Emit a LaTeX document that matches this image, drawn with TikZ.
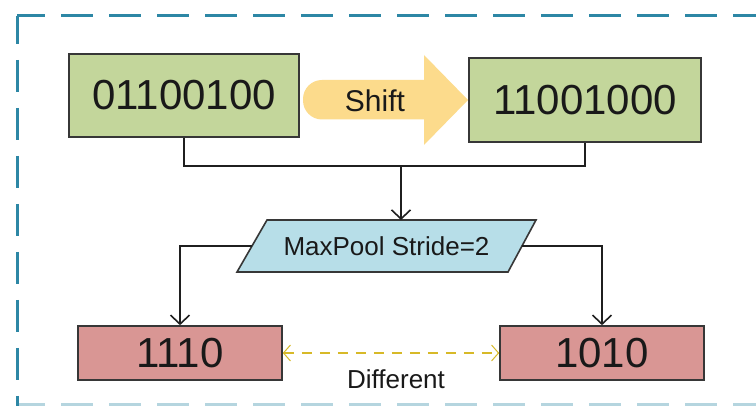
\documentclass[tikz,border=0pt]{standalone}
\usepackage{fontspec}
\setmainfont{Liberation Sans}
\usetikzlibrary{arrows.meta}
\definecolor{boxgreen}{RGB}{195,214,155}
\definecolor{boxred}{RGB}{217,150,148}
\definecolor{boxblue}{RGB}{183,222,232}
\definecolor{shiftfill}{RGB}{252,219,140}
\definecolor{borderteal}{RGB}{45,135,165}
\definecolor{edgegray}{RGB}{55,55,55}
\definecolor{txt}{RGB}{25,25,25}
\definecolor{diffyellow}{RGB}{215,185,40}
\tikzset{
  bigbox/.style={draw=edgegray, line width=1.6pt, inner sep=0pt, text=txt, font=\fontsize{42}{50}\selectfont},
  greenbox/.style={bigbox, fill=boxgreen, minimum height=83pt},
  redbox/.style={bigbox, fill=boxred, minimum width=204pt, minimum height=54pt},
  poolshape/.style={draw=edgegray, line width=1.6pt, fill=boxblue, line join=miter},
  conn/.style={draw=black!88, line width=2pt},
  arr/.style={conn, -{Straight Barb[length=9pt,width=19pt,line width=1.6pt]}},
  frame/.style={draw=borderteal, line width=3pt, dash pattern=on 32pt off 16pt, dash phase=4pt},
  diffarrow/.style={draw=diffyellow, line width=1.5pt, dash pattern=on 10pt off 8pt, {Straight Barb[length=7pt,width=16pt,line width=1pt]}-{Straight Barb[length=7pt,width=16pt,line width=1pt]}},
  label/.style={inner sep=0pt, text=txt}
}
\begin{document}
\begin{tikzpicture}[x=1pt,y=-1pt]
\useasboundingbox (0,0) rectangle (756,406);
\clip (0,0) rectangle (756,406);
\fill[white] (0,0) rectangle (756,406);
% dashed frame
\draw[frame] (17,16) -- (770,16);
\draw[frame] (17,16) -- (17,420);
\draw[frame, draw opacity=0.35] (17,404.5) -- (770,404.5);
% shift arrow
\fill[shiftfill] (380,80) [rounded corners=19pt]-- (303,80) -- (303,119.5) [sharp corners]-- (424,119.5) -- (424,145) -- (468,100) -- (424,55) -- (424,80) -- cycle;
\node[label, font=\fontsize{30}{34}\selectfont] (shift) at (375,101) {Shift};
% boxes
\node[greenbox, minimum width=230pt] (g1) at (184,95.5) {01100100};
\node[greenbox, minimum width=232pt, minimum height=84pt] (g2) at (585,100) {11001000};
% parallelogram
\draw[poolshape] (267,220) -- (536,220) -- (508,272) -- (237,272) -- cycle;
\node[label, font=\fontsize{26}{30}\selectfont] (mp) at (386.5,246) {MaxPool Stride=2};
\coordinate (mptop) at (401,220);
\coordinate (mpleft) at (252,246);
\coordinate (mpright) at (522,246);
\node[redbox] (r1) at (180,353) {1110};
\node[redbox] (r2) at (602,353) {1010};
% connectors
\coordinate (j) at (401,166);
\draw[conn] (g1.south) |- (j);
\draw[conn] (g2.south) |- (j);
\draw[arr] (j) -- (mptop);
\draw[arr] (mpleft) -| (r1.north);
\draw[arr] (mpright) -| (r2.north);
\draw[diffarrow] (r1.east) -- (r2.west);
\node[label, font=\fontsize{26}{30}\selectfont] (diff) at (396,379) {Different};
\end{tikzpicture}
\end{document}
